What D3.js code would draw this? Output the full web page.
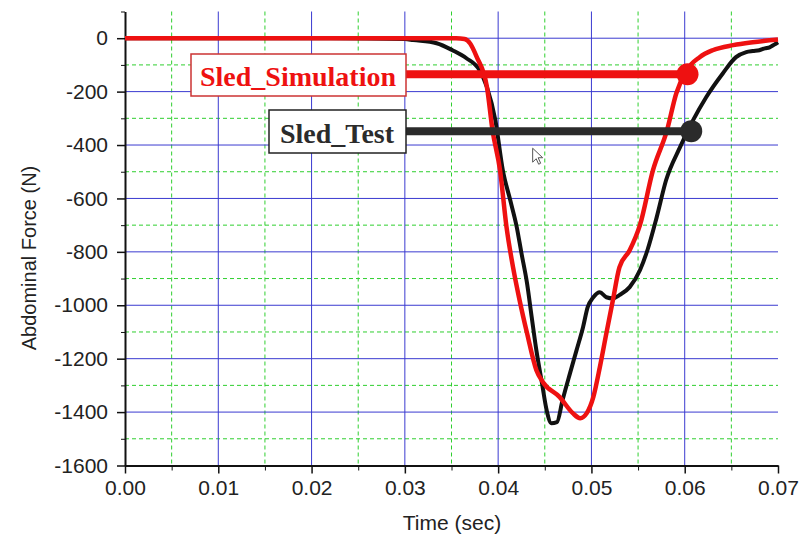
<!DOCTYPE html>
<html>
<head>
<meta charset="utf-8">
<script src="https://cdn.jsdelivr.net/npm/d3@7"></script>
<style>
body { margin: 0; background: #fff; }
svg { display: block; }
.axis text { font-family: "Liberation Sans", Arial, sans-serif; font-size: 21px; fill: #222; }
.axis path, .axis line { stroke: #111; }
</style>
</head>
<body>
<svg width="804" height="539"></svg>
<script>
// Sled_Simulation (red) - time (sec), abdominal force (N)
var simTime = [0, 0.0300, 0.0355, 0.0364, 0.0370, 0.0377, 0.0388, 0.0394, 0.0402, 0.0409, 0.0416, 0.0423, 0.0431, 0.0441, 0.0448, 0.0466, 0.0480, 0.0488, 0.0495, 0.0502, 0.0509, 0.0516, 0.0523, 0.0530, 0.0541, 0.0552, 0.0566, 0.0581, 0.0591, 0.0602, 0.0616, 0.0630, 0.0652, 0.0673, 0.0700];
var simForce = [0, 0, 0, -3, -20, -70, -183, -345, -494, -708, -858, -981, -1105, -1243, -1288, -1344, -1404, -1423, -1404, -1344, -1232, -1105, -981, -858, -794, -700, -494, -345, -206, -120, -71, -45, -26, -15, -5];

// Sled_Test (black)
var testTime = [0, 0.0220, 0.0300, 0.0309, 0.0334, 0.0351, 0.0366, 0.0380, 0.0388, 0.0397, 0.0405, 0.0413, 0.0420, 0.0425, 0.0431, 0.0436, 0.0441, 0.0447, 0.0452, 0.0457, 0.0463, 0.0469, 0.0477, 0.0484, 0.0491, 0.0496, 0.0502, 0.0509, 0.0516, 0.0523, 0.0530, 0.0541, 0.0552, 0.0560, 0.0570, 0.0580, 0.0595, 0.0609, 0.0623, 0.0641, 0.0655, 0.0666, 0.0673, 0.0680, 0.0686, 0.0691, 0.0696, 0.0700];
var testForce = [0, 0, -3, -7, -19, -45, -75, -120, -183, -307, -494, -607, -708, -805, -918, -1045, -1169, -1292, -1393, -1442, -1438, -1356, -1255, -1169, -1082, -1007, -970, -951, -970, -974, -962, -932, -869, -794, -670, -532, -408, -307, -221, -131, -71, -52, -48, -45, -38, -34, -24, -15];

// callouts: name, point on curve
var calloutNames = ["Sled_Simulation", "Sled_Test"];
var calloutTime = [0.0603, 0.0607];
var calloutForce = [-135, -348];
var calloutColors = ["#ee1111", "#2b2b2b"];

var xTicks = [0, 0.01, 0.02, 0.03, 0.04, 0.05, 0.06, 0.07];
var xMinor = [0.005, 0.015, 0.025, 0.035, 0.045, 0.055, 0.065];
var yTicks = [-1600, -1400, -1200, -1000, -800, -600, -400, -200, 0];
var yMinor = [-1500, -1300, -1100, -900, -700, -500, -300, -100, 100];

var svg = d3.select("svg");

var x = d3.scaleLinear().domain([0, 0.07]).range([125, 778]),
    y = d3.scaleLinear().domain([-1600, 100]).range([465.5, 11.5]);

var grid = svg.append("g");

// minor grid (green dashed)
grid.selectAll(".vminor").data(xMinor).enter().append("line")
    .attr("x1", function (d) { return x(d); }).attr("x2", function (d) { return x(d); })
    .attr("y1", y.range()[1]).attr("y2", y.range()[0])
    .attr("stroke", "#2fcf2f").attr("stroke-width", 1).attr("stroke-dasharray", "4,3");

grid.selectAll(".hminor").data(yMinor.filter(function (d) { return d < 100; })).enter().append("line")
    .attr("x1", x(0)).attr("x2", x(0.07))
    .attr("y1", function (d) { return y(d); }).attr("y2", function (d) { return y(d); })
    .attr("stroke", "#2fcf2f").attr("stroke-width", 1).attr("stroke-dasharray", "4,3");

// major grid (blue)
grid.selectAll(".vmajor").data(xTicks.slice(1, -1)).enter().append("line")
    .attr("x1", function (d) { return x(d); }).attr("x2", function (d) { return x(d); })
    .attr("y1", y.range()[1]).attr("y2", y.range()[0])
    .attr("stroke", "#3a3ad0").attr("stroke-width", 1);

grid.selectAll(".hmajor").data(yTicks.slice(1)).enter().append("line")
    .attr("x1", x(0)).attr("x2", x(0.07))
    .attr("y1", function (d) { return y(d); }).attr("y2", function (d) { return y(d); })
    .attr("stroke", "#3a3ad0").attr("stroke-width", 1);

// axes
svg.append("g")
    .attr("class", "axis")
    .attr("transform", "translate(0," + y(-1600) + ")")
    .call(d3.axisBottom(x).tickValues(xMinor).tickSize(5).tickFormat(""))
    .call(function (g) { g.select(".domain").remove(); });

svg.append("g")
    .attr("class", "axis")
    .attr("transform", "translate(0," + y(-1600) + ")")
    .call(d3.axisBottom(x).tickValues(xTicks).tickSize(8).tickSizeOuter(0).tickPadding(7).tickFormat(d3.format(".2f")))
    .call(function (g) { g.select(".domain").attr("stroke-width", 2); g.selectAll("line").attr("stroke-width", 1.5); });

svg.append("g")
    .attr("class", "axis")
    .attr("transform", "translate(" + x(0) + ",0)")
    .call(d3.axisLeft(y).tickValues(yMinor).tickSize(4).tickFormat(""))
    .call(function (g) { g.select(".domain").remove(); });

svg.append("g")
    .attr("class", "axis")
    .attr("transform", "translate(" + x(0) + ",0)")
    .call(d3.axisLeft(y).tickValues(yTicks).tickSize(8).tickSizeOuter(0).tickPadding(9).tickFormat(function (d) { return String(d); }))
    .call(function (g) { g.select(".domain").attr("stroke-width", 2); g.selectAll("line").attr("stroke-width", 1.5); });

// axis titles
svg.append("text")
    .attr("x", 452).attr("y", 530)
    .attr("text-anchor", "middle")
    .attr("font-family", "Liberation Sans, Arial, sans-serif")
    .attr("font-size", 21).attr("fill", "#222")
    .text("Time (sec)");

svg.append("text")
    .attr("transform", "translate(36,258) rotate(-90)")
    .attr("text-anchor", "middle")
    .attr("font-family", "Liberation Sans, Arial, sans-serif")
    .attr("font-size", 20).attr("fill", "#222")
    .text("Abdominal Force (N)");

// curves
var testData = testTime.map(function (t, i) { return {time: t, force: testForce[i]}; });
var simData = simTime.map(function (t, i) { return {time: t, force: simForce[i]}; });

var line = d3.line()
    .curve(d3.curveMonotoneX)
    .x(function (d) { return x(d.time); })
    .y(function (d) { return y(d.force); });

svg.append("path").datum(testData)
    .attr("fill", "none").attr("stroke", "#111").attr("stroke-width", 4)
    .attr("stroke-linejoin", "round")
    .attr("d", line);

svg.append("path").datum(simData)
    .attr("fill", "none").attr("stroke", "#ee1111").attr("stroke-width", 4.5)
    .attr("stroke-linejoin", "round")
    .attr("d", line);

// callout labels
var boxes = [
  {x: 191, y: 54, w: 215, h: 42, tx: 298, ty: 86, stroke: "#cc3333"},
  {x: 269, y: 110, w: 137, h: 43, tx: 337, ty: 143, stroke: "#222"}
];

calloutNames.forEach(function (name, i) {
  var b = boxes[i];
  var cy = y(calloutForce[i]);
  svg.append("line")
      .attr("x1", b.x + b.w).attr("x2", x(calloutTime[i]))
      .attr("y1", cy).attr("y2", cy)
      .attr("stroke", calloutColors[i]).attr("stroke-width", 8);
  svg.append("circle")
      .attr("cx", x(calloutTime[i])).attr("cy", cy).attr("r", 11)
      .attr("fill", calloutColors[i]);
  svg.append("rect")
      .attr("x", b.x).attr("y", b.y).attr("width", b.w).attr("height", b.h)
      .attr("fill", "#fff").attr("stroke", b.stroke).attr("stroke-width", 1.5);
  svg.append("text")
      .attr("x", b.tx).attr("y", b.ty)
      .attr("text-anchor", "middle")
      .attr("font-family", "Liberation Serif, Times New Roman, serif")
      .attr("font-weight", "bold").attr("font-size", 28)
      .attr("fill", calloutColors[i])
      .text(name);
});

// mouse pointer left in the screenshot
svg.append("path")
    .attr("transform", "translate(" + x(0.0437) + "," + y(-412) + ")")
    .attr("d", "M0,0 L0,14 L3.5,10.5 L6,16 L8,15 L5.5,9.5 L10,9.5 Z")
    .attr("fill", "#fff").attr("stroke", "#555").attr("stroke-width", 1);
</script>
</body>
</html>
